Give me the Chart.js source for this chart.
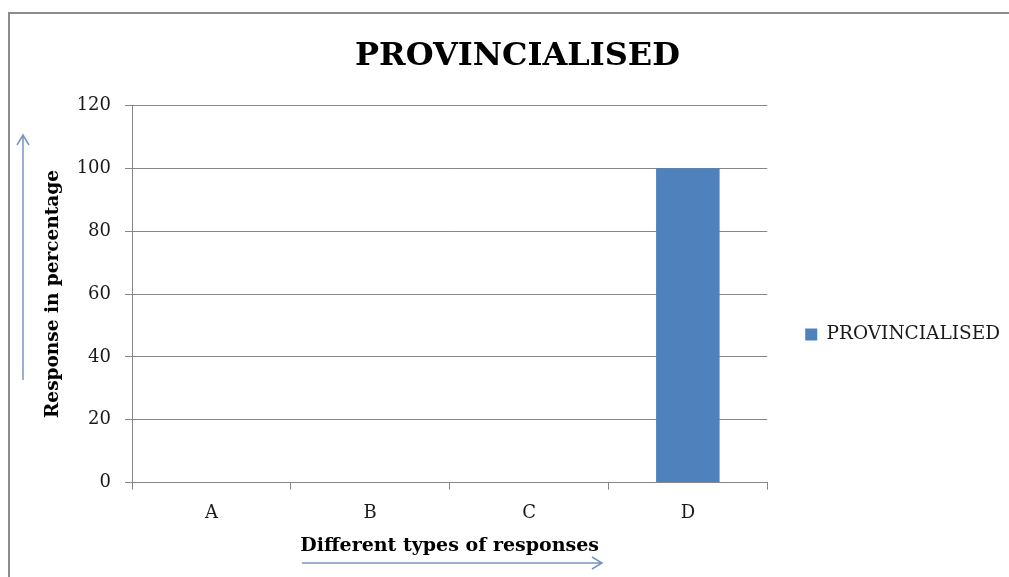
<!DOCTYPE html>
<html>
<head>
<meta charset="utf-8">
<script src="https://cdn.jsdelivr.net/npm/chart.js@4.4.1/dist/chart.umd.min.js"></script>
<style>
  html, body { margin: 0; padding: 0; background: #ffffff; }
  #wrap { position: relative; width: 1009px; height: 577px; overflow: hidden; }
  #frame { position: absolute; left: 8px; top: 12px; width: 1100px; height: 700px;
           border-left: 2px solid #8c8c8c; border-top: 2px solid #8c8c8c; box-sizing: border-box; }
  canvas { position: absolute; left: 0; top: 0; }
</style>
</head>
<body>
<div id="wrap">
  <div id="frame"></div>
  <canvas id="chart" width="1009" height="577"></canvas>
</div>
<script>
// Survey responses for the provincialised group
const categories = ['A', 'B', 'C', 'D'];
const seriesName = 'PROVINCIALISED';
const responsePercent = [0, 0, 0, 100];
const yTicks = [0, 20, 40, 60, 80, 100, 120];

const serif = "'DejaVu Serif', 'Liberation Serif', serif";
const barBlue = '#4f81bd';
const arrowBlue = '#7896c2';
const gridGray = '#868686';

// Direction arrows beside the axis titles
const axisArrows = {
  id: 'axisArrows',
  afterDraw(chart) {
    const ctx = chart.ctx;
    ctx.save();
    ctx.strokeStyle = arrowBlue;
    ctx.lineWidth = 1.5;
    // up arrow next to the y title
    ctx.beginPath();
    ctx.moveTo(23, 380); ctx.lineTo(23, 135);
    ctx.moveTo(17, 145); ctx.lineTo(23, 135); ctx.lineTo(29, 145);
    ctx.stroke();
    // right arrow under the x title
    ctx.beginPath();
    ctx.moveTo(302, 563); ctx.lineTo(602, 563);
    ctx.moveTo(592, 557); ctx.lineTo(602, 563); ctx.lineTo(592, 569);
    ctx.stroke();
    ctx.restore();
  }
};

// Move the legend block down beside the plot
const legendShift = {
  id: 'legendShift',
  afterLayout(chart) {
    const lg = chart.legend;
    if (lg) {
      lg.top += 56; lg.bottom += 56;
      lg.left += 1; lg.right += 1;
    }
  }
};

new Chart(document.getElementById('chart'), {
  type: 'bar',
  data: {
    labels: categories,
    datasets: [{
      label: seriesName,
      data: responsePercent,
      backgroundColor: barBlue,
      borderWidth: 0,
      barPercentage: 0.4,
      categoryPercentage: 1.0
    }]
  },
  options: {
    responsive: false,
    animation: false,
    devicePixelRatio: 1,
    layout: { padding: { left: 26, right: 0, top: 0, bottom: 20 } },
    plugins: {
      title: {
        display: true,
        text: 'PROVINCIALISED',
        color: '#000000',
        font: { family: serif, size: 32, weight: 'bold' },
        padding: { top: 37, bottom: 30 }
      },
      legend: {
        position: 'right',
        labels: {
          color: '#1a1a1a',
          font: { family: serif, size: 18.5 },
          boxWidth: 12,
          boxHeight: 12,
          padding: 37
        }
      },
      tooltip: { enabled: false }
    },
    scales: {
      x: {
        grid: { display: true, drawOnChartArea: false, drawTicks: true, tickLength: 7, color: gridGray, offset: true },
        border: { display: true, color: gridGray, width: 1 },
        ticks: { color: '#1a1a1a', font: { family: serif, size: 18 }, padding: 13 },
        title: {
          display: true,
          text: 'Different types of responses',
          color: '#000000',
          font: { family: serif, size: 19, weight: 'bold' },
          padding: { top: -3, bottom: 0 }
        }
      },
      y: {
        min: 0,
        max: 120,
        afterBuildTicks(scale) { scale.ticks = yTicks.map(v => ({ value: v })); },
        grid: { color: gridGray, drawTicks: true, tickLength: 7 },
        border: { display: true, color: gridGray, width: 1 },
        ticks: { color: '#1a1a1a', font: { family: serif, size: 18 }, padding: 14 },
        title: {
          display: true,
          text: 'Response in percentage',
          color: '#000000',
          font: { family: serif, size: 18.5, weight: 'bold' },
          padding: { top: 16, bottom: 0 }
        },
        afterFit(scale) { scale.width = 106; }
      }
    }
  },
  plugins: [axisArrows, legendShift]
});
</script>
</body>
</html>
